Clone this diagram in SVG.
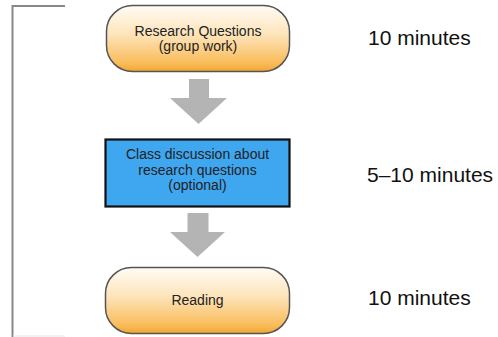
<svg xmlns="http://www.w3.org/2000/svg" width="498" height="337" viewBox="0 0 498 337">
<defs>
<linearGradient id="og" x1="0" y1="0" x2="0" y2="1">
<stop offset="0" stop-color="#fffcf6"/>
<stop offset="0.45" stop-color="#fde3b8"/>
<stop offset="0.88" stop-color="#f9bb58"/>
<stop offset="1" stop-color="#f3a52e"/>
</linearGradient>
<style>
.pill{fill:url(#og);stroke:#555;stroke-width:1.5}
.box{fill:#3fa6f0;stroke:#111;stroke-width:2.2}
.t{font-family:"Liberation Sans",Arial,sans-serif;font-size:14px;fill:#222;text-anchor:middle}
.lab{font-family:"Liberation Sans",Arial,sans-serif;font-size:21px;fill:#111}
.arr{fill:#b4b4b4}
</style>
</defs>
<g id="bracket">
<path d="M65 6 H12.5 V337" fill="none" stroke="#888" stroke-width="2"/>
<line x1="13" y1="336" x2="65" y2="336" stroke="#e6e6e6" stroke-width="1"/>
</g>
<g id="connectors">
<path class="arr" d="M189 79 H209 V98 H227 L198.5 124 L170 98 H189 Z"/>
<path class="arr" d="M187.5 213 H208.5 V232 H225 L197.5 257 L170 232 H187.5 Z"/>
</g>
<g id="node-research">
<rect class="pill" x="106.5" y="5.5" width="183" height="66" rx="26"/>
<text class="t" x="198" y="36">Research Questions</text>
<text class="t" x="198" y="51">(group work)</text>
</g>
<g id="node-discussion">
<rect class="box" x="105.5" y="139.5" width="184" height="67"/>
<text class="t" x="197.5" y="159">Class discussion about</text>
<text class="t" x="197.5" y="175">research questions</text>
<text class="t" x="197.5" y="190">(optional)</text>
</g>
<g id="node-reading">
<rect class="pill" x="105.5" y="267.5" width="184" height="66" rx="26"/>
<text class="t" x="197.5" y="305">Reading</text>
</g>
<g id="times">
<text class="lab" x="368" y="44.5">10 minutes</text>
<text class="lab" x="367" y="182">5–10 minutes</text>
<text class="lab" x="368" y="305">10 minutes</text>
</g>
</svg>
